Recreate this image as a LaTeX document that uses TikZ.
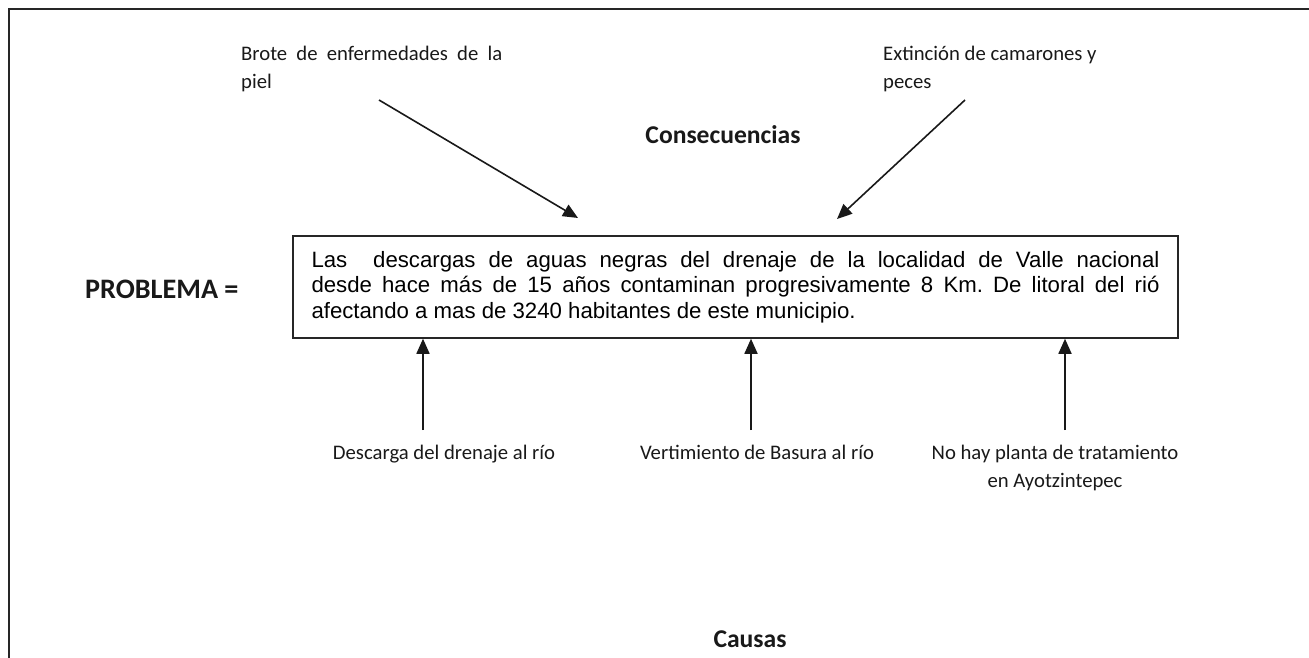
\documentclass[tikz,border=0pt]{standalone}
\usepackage{fontspec}
\setmainfont{Carlito}
\newfontfamily\arialf{Liberation Sans}
\usetikzlibrary{arrows.meta}
\begin{document}
\begin{tikzpicture}[x=1pt,y=-1pt,
  lbl/.style={font=\fontsize{20.7}{28}\selectfont, text=black!90, inner sep=0, anchor=base west},
  lblc/.style={font=\fontsize{20.7}{28}\selectfont, text=black!90, inner sep=0, anchor=base},
  head/.style={font=\fontsize{25.6}{30}\selectfont\bfseries, text=black!90, inner sep=0, anchor=base},
  arr/.style={line width=1.6pt, draw=black!90, -{Triangle[length=15pt,width=13pt]}},
  probbox/.style={draw=black!85, line width=1.5pt, minimum width=885pt, minimum height=102pt, inner sep=0,
    font=\arialf\fontsize{22.2}{25.3}\selectfont, align=left},
  frame/.style={line width=2pt, draw=black!85}]
\useasboundingbox (0,0) rectangle (1309,658);
\draw[frame] (1309,9.5) -- (9,9.5) -- (9,658);

\node[probbox] (prob) at (735.5,287) {\makebox[848pt][s]{Las\ \ descargas de aguas negras del drenaje de la localidad de Valle nacional}\\
\makebox[848pt][s]{desde hace más de 15 años contaminan progresivamente 8 Km.\ De litoral del rió}\\
afectando a mas de 3240 habitantes de este municipio.};

\node[lbl] (b1) at (241,61) {\makebox[261pt][s]{Brote de enfermedades de la}};
\node[lbl] (b2) at (241,89) {piel};
\node[lbl] (e1) at (883,61) {Extinción de camarones y};
\node[lbl] (e2) at (883,89) {peces};
\node[head] (cons) at (723,144) {Consecuencias};
\node[head, anchor=base west, font=\fontsize{28.2}{32}\selectfont\bfseries] (probl) at (85,298) {PROBLEMA =};
\node[lblc] (d1) at (444,459) {Descarga del drenaje al río};
\node[lblc] (d2) at (757,459) {Vertimiento de Basura al río};
\node[lblc] (d3) at (1055,459) {No hay planta de tratamiento};
\node[lblc] (d4) at (1055,487) {en Ayotzintepec};
\node[head] (caus) at (750,647) {Causas};

\coordinate (s1) at (379,100);
\coordinate (t1) at (578,218);
\coordinate (s2) at (965,100);
\coordinate (t2) at (837,219);
\draw[arr] (s1) -- (t1);
\draw[arr] (s2) -- (t2);

\coordinate (u1) at (423,430);
\coordinate (u2) at (751,430);
\coordinate (u3) at (1065,430);
\draw[arr] (u1) -- (u1 |- prob.south);
\draw[arr] (u2) -- (u2 |- prob.south);
\draw[arr] (u3) -- (u3 |- prob.south);
\end{tikzpicture}
\end{document}
